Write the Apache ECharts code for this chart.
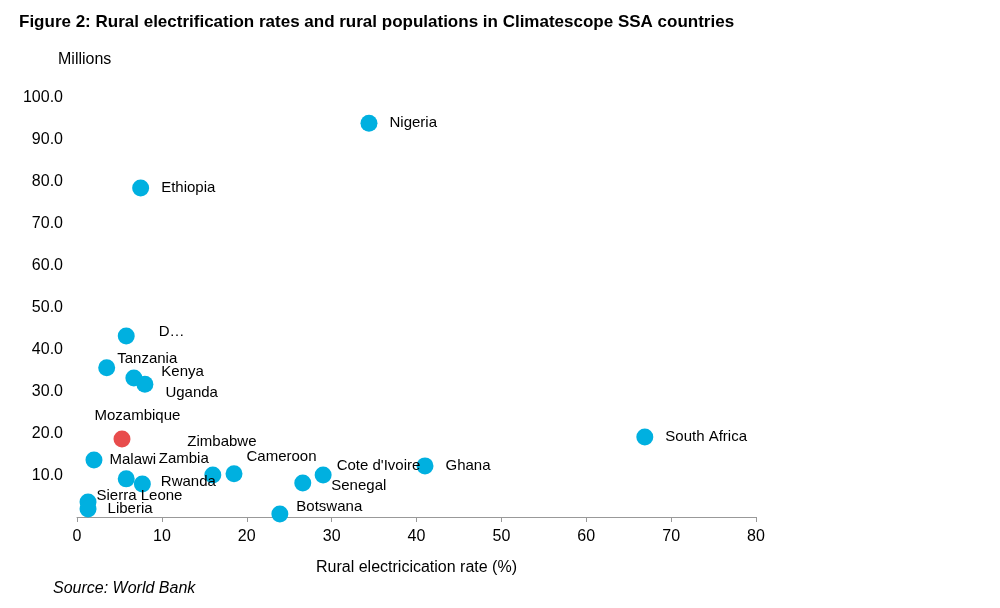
<!DOCTYPE html>
<html><head><meta charset="utf-8">
<script src="https://cdn.jsdelivr.net/npm/echarts@6/dist/echarts.min.js"></script>
<style>body{margin:0;background:#fff}#c{width:1000px;height:608px}</style>
</head><body><div id="c"></div>
<script>
// values
var countries=['Nigeria','Ethiopia','D…','Tanzania','Kenya','Uganda','Mozambique','Malawi','Zambia','Rwanda','Zimbabwe','Cameroon',"Cote d'Ivoire",'Senegal','Botswana','Ghana','South Africa','Sierra Leone','Liberia'];
var elecRate=[34.4,7.5,5.8,3.5,6.7,8.0,5.3,2.0,5.8,7.7,16.0,18.5,29.0,26.6,23.9,41.0,66.9,1.3,1.3];
var ruralPop=[94.0,78.5,43.2,35.6,33.2,31.7,18.6,13.6,9.1,7.9,10.0,10.3,10.0,8.1,0.7,12.2,19.1,3.6,1.9];
var yTicks=[10,20,30,40,50,60,70,80,90,100];
// label offsets (px)
var labelOff=[[7,0],[7,0],[19,-4],[-3,-9],[14,-6],[7,9],[-41,-23],[2,0],[19,-20],[5,-2],[-39,-33],[-1,-17],[0,-9],[15,3],[3,-7],[7,0],[7,0],[-5,-6],[6,0]];

var FF='Liberation Sans';
var data=[];
for(var i=0;i<countries.length;i++){
  data.push({
    value:[elecRate[i],ruralPop[i]],name:countries[i],
    itemStyle:{color:countries[i]=='Mozambique'?'#e84c4c':'#00b0e0',opacity:1},
    label:{offset:labelOff[i]}
  });
}
var chart=echarts.init(document.getElementById('c'));
chart.setOption({
  animation:false,
  textStyle:{fontFamily:FF},
  title:[
    {text:'Figure 2: Rural electrification rates and rural populations in Climatescope SSA countries',left:14,top:9,textStyle:{fontFamily:FF,fontSize:17,fontWeight:'bold',color:'#000'}},
    {text:'Millions',left:53,top:47,textStyle:{fontFamily:FF,fontSize:16,fontWeight:'normal',color:'#000'}},
    {text:'Source: World Bank',left:48,top:576,textStyle:{fontFamily:FF,fontSize:16,fontWeight:'normal',fontStyle:'italic',color:'#000'}}
  ],
  grid:{left:77,right:244,top:98,bottom:91},
  xAxis:{type:'value',min:0,max:80,interval:10,name:'Rural electricication rate (%)',nameLocation:'middle',nameGap:43,
    nameTextStyle:{fontFamily:FF,fontSize:16,color:'#000'},
    axisLine:{lineStyle:{color:'#999'}},axisTick:{show:true,lineStyle:{color:'#999'}},
    axisLabel:{fontFamily:FF,fontSize:16,color:'#000',margin:12},splitLine:{show:false}},
  yAxis:{type:'value',min:0,max:100,interval:10,
    axisLine:{show:false},axisTick:{show:false},splitLine:{show:false},
    axisLabel:{fontFamily:FF,fontSize:16,color:'#000',margin:14,formatter:function(v){return yTicks.indexOf(v)>=0?v.toFixed(1):'';}}},
  series:[{type:'scatter',symbolSize:17,data:data,
    label:{show:true,position:'right',distance:5,fontFamily:FF,fontSize:15,color:'#000',formatter:'{b}'}}]
});
</script></body></html>
